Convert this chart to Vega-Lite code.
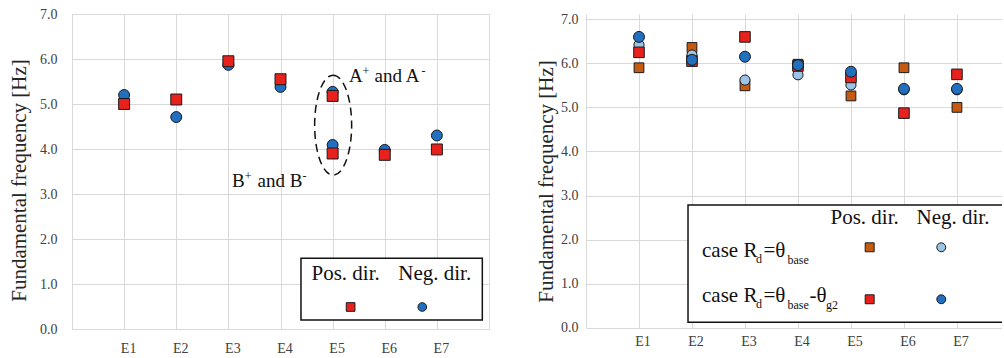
{
  "$schema": "https://vega.github.io/schema/vega-lite/v6.json",
  "padding": {"left": 8, "top": 7, "right": 0, "bottom": 0},
  "spacing": 46,
  "align": "each",
  "resolve": {"scale": {"color": "independent", "shape": "independent", "size": "independent"}},
  "config": {
    "view": {"stroke": null},
    "font": "Liberation Serif",
    "axis": {
      "labelFont": "Liberation Serif",
      "titleFont": "Liberation Serif",
      "labelFontSize": 14,
      "labelColor": "#404040",
      "titleFontSize": 21,
      "titleFontWeight": "normal",
      "titleColor": "#262626",
      "gridColor": "#d9d9d9",
      "gridWidth": 1,
      "ticks": false,
      "tickSize": 0,
      "domain": false
    }
  },
  "datasets": {
    "left": [
      {"element": "E1", "n": 1, "series": "Neg. dir.", "f": 5.20},
      {"element": "E2", "n": 2, "series": "Neg. dir.", "f": 4.71},
      {"element": "E3", "n": 3, "series": "Neg. dir.", "f": 5.87},
      {"element": "E4", "n": 4, "series": "Neg. dir.", "f": 5.38},
      {"element": "E5", "n": 5, "series": "Neg. dir.", "f": 5.27},
      {"element": "E5", "n": 5, "series": "Neg. dir.", "f": 4.09},
      {"element": "E6", "n": 6, "series": "Neg. dir.", "f": 3.98},
      {"element": "E7", "n": 7, "series": "Neg. dir.", "f": 4.30},
      {"element": "E1", "n": 1, "series": "Pos. dir.", "f": 5.00},
      {"element": "E2", "n": 2, "series": "Pos. dir.", "f": 5.10},
      {"element": "E3", "n": 3, "series": "Pos. dir.", "f": 5.95},
      {"element": "E4", "n": 4, "series": "Pos. dir.", "f": 5.55},
      {"element": "E5", "n": 5, "series": "Pos. dir.", "f": 5.18},
      {"element": "E5", "n": 5, "series": "Pos. dir.", "f": 3.90},
      {"element": "E6", "n": 6, "series": "Pos. dir.", "f": 3.87},
      {"element": "E7", "n": 7, "series": "Pos. dir.", "f": 3.99}
    ],
    "right": [
      {"element": "E1", "n": 1, "series": "base pos", "f": 5.90},
      {"element": "E2", "n": 2, "series": "base pos", "f": 6.36},
      {"element": "E3", "n": 3, "series": "base pos", "f": 5.49},
      {"element": "E4", "n": 4, "series": "base pos", "f": 5.98},
      {"element": "E5", "n": 5, "series": "base pos", "f": 5.26},
      {"element": "E6", "n": 6, "series": "base pos", "f": 5.90},
      {"element": "E7", "n": 7, "series": "base pos", "f": 5.00},
      {"element": "E1", "n": 1, "series": "base neg", "f": 6.42},
      {"element": "E2", "n": 2, "series": "base neg", "f": 6.19},
      {"element": "E3", "n": 3, "series": "base neg", "f": 5.62},
      {"element": "E4", "n": 4, "series": "base neg", "f": 5.74},
      {"element": "E5", "n": 5, "series": "base neg", "f": 5.51},
      {"element": "E6", "n": 6, "series": "base neg", "f": 5.40},
      {"element": "E7", "n": 7, "series": "base neg", "f": 5.40},
      {"element": "E1", "n": 1, "series": "g2 pos", "f": 6.25},
      {"element": "E2", "n": 2, "series": "g2 pos", "f": 6.05},
      {"element": "E3", "n": 3, "series": "g2 pos", "f": 6.60},
      {"element": "E4", "n": 4, "series": "g2 pos", "f": 5.94},
      {"element": "E5", "n": 5, "series": "g2 pos", "f": 5.68},
      {"element": "E6", "n": 6, "series": "g2 pos", "f": 4.87},
      {"element": "E7", "n": 7, "series": "g2 pos", "f": 5.75},
      {"element": "E1", "n": 1, "series": "g2 neg", "f": 6.60},
      {"element": "E2", "n": 2, "series": "g2 neg", "f": 6.08},
      {"element": "E3", "n": 3, "series": "g2 neg", "f": 6.15},
      {"element": "E4", "n": 4, "series": "g2 neg", "f": 5.96},
      {"element": "E5", "n": 5, "series": "g2 neg", "f": 5.81},
      {"element": "E6", "n": 6, "series": "g2 neg", "f": 5.42},
      {"element": "E7", "n": 7, "series": "g2 neg", "f": 5.42}
    ]
  },
  "hconcat": [
    {
      "width": 417,
      "height": 315,
      "layer": [
        {
          "data": {"name": "left"},
          "mark": {"type": "point", "filled": true, "size": 120, "stroke": "#1a1a1a", "strokeWidth": 1, "opacity": 1},
          "encoding": {
            "x": {"field": "n", "type": "quantitative",
              "scale": {"domain": [0, 8], "nice": false, "zero": false},
              "axis": {"values": [0, 1, 2, 3, 4, 5, 6, 7, 8], "grid": true, "title": null,
                "labelExpr": "datum.value >= 1 && datum.value <= 7 ? 'E' + datum.value : ''",
                "labelOffset": 4, "labelPadding": 12, "labelFontSize": 14}},
            "y": {"field": "f", "type": "quantitative",
              "scale": {"domain": [0, 7], "nice": false},
              "axis": {"values": [0, 1, 2, 3, 4, 5, 6, 7], "format": ".1f", "grid": true,
                "title": "Fundamental frequency [Hz]", "labelPadding": 15, "titlePadding": 10, "titleY": 166}},
            "shape": {"field": "series", "type": "nominal", "scale": {"domain": ["Pos. dir.", "Neg. dir."], "range": ["square", "circle"]}, "legend": null},
            "color": {"field": "series", "type": "nominal", "scale": {"domain": ["Pos. dir.", "Neg. dir."], "range": ["#e8211d", "#2170bf"]}, "legend": null}
          }
        },
        {
          "data": {"values": [{"k": "ellipse"}]},
          "mark": {"type": "point", "filled": false, "size": 10000, "color": "#111111", "strokeWidth": 1.5, "strokeDash": [8, 5], "opacity": 1,
            "shape": "M 0 -1 C 0.2044 -1 0.37 -0.5523 0.37 0 C 0.37 0.5523 0.2044 1 0 1 C -0.2044 1 -0.37 0.5523 -0.37 0 C -0.37 -0.5523 -0.2044 -1 0 -1 Z"},
          "encoding": {"x": {"datum": 5.01}, "y": {"datum": 4.53}}
        },
        {
          "data": {"values": [{"t": "A"}]},
          "mark": {"type": "text", "align": "left", "baseline": "alphabetic", "fontSize": 19, "font": "Liberation Serif", "color": "#111111"},
          "encoding": {"x": {"datum": 5.315}, "y": {"datum": 5.495}, "text": {"field": "t"}}
        },
        {
          "data": {"values": [{"t": "+"}]},
          "mark": {"type": "text", "align": "left", "baseline": "alphabetic", "fontSize": 12, "font": "Liberation Serif", "color": "#111111", "dx": 13.5, "dy": -7},
          "encoding": {"x": {"datum": 5.315}, "y": {"datum": 5.495}, "text": {"field": "t"}}
        },
        {
          "data": {"values": [{"t": "and A"}]},
          "mark": {"type": "text", "align": "left", "baseline": "alphabetic", "fontSize": 19, "font": "Liberation Serif", "color": "#111111", "dx": 25.5},
          "encoding": {"x": {"datum": 5.315}, "y": {"datum": 5.495}, "text": {"field": "t"}}
        },
        {
          "data": {"values": [{"t": "-"}]},
          "mark": {"type": "text", "align": "left", "baseline": "alphabetic", "fontSize": 12, "font": "Liberation Serif", "color": "#111111", "dx": 72.5, "dy": -7},
          "encoding": {"x": {"datum": 5.315}, "y": {"datum": 5.495}, "text": {"field": "t"}}
        },
        {
          "data": {"values": [{"t": "B"}]},
          "mark": {"type": "text", "align": "left", "baseline": "alphabetic", "fontSize": 19, "font": "Liberation Serif", "color": "#111111"},
          "encoding": {"x": {"datum": 3.07}, "y": {"datum": 3.162}, "text": {"field": "t"}}
        },
        {
          "data": {"values": [{"t": "+"}]},
          "mark": {"type": "text", "align": "left", "baseline": "alphabetic", "fontSize": 12, "font": "Liberation Serif", "color": "#111111", "dx": 12.7, "dy": -7},
          "encoding": {"x": {"datum": 3.07}, "y": {"datum": 3.162}, "text": {"field": "t"}}
        },
        {
          "data": {"values": [{"t": "and B"}]},
          "mark": {"type": "text", "align": "left", "baseline": "alphabetic", "fontSize": 19, "font": "Liberation Serif", "color": "#111111", "dx": 25.5},
          "encoding": {"x": {"datum": 3.07}, "y": {"datum": 3.162}, "text": {"field": "t"}}
        },
        {
          "data": {"values": [{"t": "-"}]},
          "mark": {"type": "text", "align": "left", "baseline": "alphabetic", "fontSize": 12, "font": "Liberation Serif", "color": "#111111", "dx": 70.5, "dy": -7},
          "encoding": {"x": {"datum": 3.07}, "y": {"datum": 3.162}, "text": {"field": "t"}}
        },
        {
          "data": {"values": [{"k": "legend box"}]},
          "mark": {"type": "rect", "fill": "#ffffff", "stroke": "#111111", "strokeWidth": 1.5},
          "encoding": {"x": {"datum": 4.393}, "x2": {"datum": 7.872}, "y": {"datum": 1.571}, "y2": {"datum": 0.2}}
        },
        {
          "data": {"values": [{"t": "Pos. dir."}]},
          "mark": {"type": "text", "align": "center", "baseline": "alphabetic", "fontSize": 21, "font": "Liberation Serif", "color": "#111111"},
          "encoding": {"x": {"datum": 5.25}, "y": {"datum": 1.089}, "text": {"field": "t"}}
        },
        {
          "data": {"values": [{"t": "Neg. dir."}]},
          "mark": {"type": "text", "align": "center", "baseline": "alphabetic", "fontSize": 21, "font": "Liberation Serif", "color": "#111111"},
          "encoding": {"x": {"datum": 6.958}, "y": {"datum": 1.089}, "text": {"field": "t"}}
        },
        {
          "data": {"values": [{"series": "Pos. dir."}]},
          "mark": {"type": "point", "filled": true, "size": 75, "stroke": "#1a1a1a", "strokeWidth": 1, "opacity": 1},
          "encoding": {"x": {"datum": 5.345}, "y": {"datum": 0.489},
            "shape": {"field": "series", "type": "nominal", "legend": null},
            "color": {"field": "series", "type": "nominal", "legend": null}}
        },
        {
          "data": {"values": [{"series": "Neg. dir."}]},
          "mark": {"type": "point", "filled": true, "size": 75, "stroke": "#1a1a1a", "strokeWidth": 1, "opacity": 1},
          "encoding": {"x": {"datum": 6.72}, "y": {"datum": 0.489},
            "shape": {"field": "series", "type": "nominal", "legend": null},
            "color": {"field": "series", "type": "nominal", "legend": null}}
        }
      ]
    },
    {
      "width": 416,
      "height": 313.7,
      "layer": [
        {
          "data": {"name": "right"},
          "mark": {"type": "point", "filled": true, "stroke": "#1a1a1a", "strokeWidth": 1, "opacity": 1},
          "encoding": {
            "x": {"field": "n", "type": "quantitative",
              "scale": {"domain": [0, 7.85], "nice": false, "zero": false},
              "axis": {"values": [0, 1, 2, 3, 4, 5, 6, 7], "grid": true, "title": null,
                "labelExpr": "datum.value >= 1 && datum.value <= 7 ? 'E' + datum.value : ''",
                "labelOffset": 3.5, "labelPadding": 7}},
            "y": {"field": "f", "type": "quantitative",
              "scale": {"domain": [0, 7.12], "nice": false},
              "axis": {"values": [0, 1, 2, 3, 4, 5, 6, 7], "format": ".1f", "grid": true,
                "title": "Fundamental frequency [Hz]", "labelPadding": 8, "titlePadding": 4, "titleY": 167}},
            "shape": {"field": "series", "type": "nominal", "scale": {"domain": ["base pos", "base neg", "g2 pos", "g2 neg"], "range": ["square", "circle", "square", "circle"]}, "legend": null},
            "color": {"field": "series", "type": "nominal", "scale": {"domain": ["base pos", "base neg", "g2 pos", "g2 neg"], "range": ["#c55a11", "#9dc3e6", "#e8211d", "#2170bf"]}, "legend": null},
            "size": {"field": "series", "type": "nominal", "scale": {"domain": ["base pos", "base neg", "g2 pos", "g2 neg"], "range": [95, 120, 125, 120]}, "legend": null}
          }
        },
        {
          "data": {"values": [{"k": "legend box"}]},
          "mark": {"type": "rect", "fill": "#ffffff", "stroke": "#111111", "strokeWidth": 1.5, "clip": true},
          "encoding": {"x": {"datum": 1.925}, "x2": {"datum": 8.2}, "y": {"datum": 2.785}, "y2": {"datum": 0.123}}
        },
        {
          "data": {"values": [{"t": "Pos. dir."}]},
          "mark": {"type": "text", "align": "center", "baseline": "alphabetic", "fontSize": 21, "font": "Liberation Serif", "color": "#111111"},
          "encoding": {"x": {"datum": 5.258}, "y": {"datum": 2.354}, "text": {"field": "t"}}
        },
        {
          "data": {"values": [{"t": "Neg. dir."}]},
          "mark": {"type": "text", "align": "center", "baseline": "alphabetic", "fontSize": 21, "font": "Liberation Serif", "color": "#111111"},
          "encoding": {"x": {"datum": 6.925}, "y": {"datum": 2.354}, "text": {"field": "t"}}
        },
        {
          "data": {"values": [{"t": "case R"}]},
          "mark": {"type": "text", "align": "left", "baseline": "alphabetic", "fontSize": 21, "font": "Liberation Serif", "color": "#111111"},
          "encoding": {"x": {"datum": 2.189}, "y": {"datum": 1.611}, "text": {"field": "t"}}
        },
        {
          "data": {"values": [{"t": "d"}]},
          "mark": {"type": "text", "align": "left", "baseline": "alphabetic", "fontSize": 12, "font": "Liberation Serif", "color": "#111111", "dx": 54, "dy": 6.5},
          "encoding": {"x": {"datum": 2.189}, "y": {"datum": 1.611}, "text": {"field": "t"}}
        },
        {
          "data": {"values": [{"t": "=θ"}]},
          "mark": {"type": "text", "align": "left", "baseline": "alphabetic", "fontSize": 21, "font": "Liberation Serif", "color": "#111111", "dx": 61.5},
          "encoding": {"x": {"datum": 2.189}, "y": {"datum": 1.611}, "text": {"field": "t"}}
        },
        {
          "data": {"values": [{"t": "base"}]},
          "mark": {"type": "text", "align": "left", "baseline": "alphabetic", "fontSize": 12, "font": "Liberation Serif", "color": "#111111", "dx": 85.5, "dy": 7},
          "encoding": {"x": {"datum": 2.189}, "y": {"datum": 1.611}, "text": {"field": "t"}}
        },
        {
          "data": {"values": [{"t": "case R"}]},
          "mark": {"type": "text", "align": "left", "baseline": "alphabetic", "fontSize": 21, "font": "Liberation Serif", "color": "#111111"},
          "encoding": {"x": {"datum": 2.189}, "y": {"datum": 0.59}, "text": {"field": "t"}}
        },
        {
          "data": {"values": [{"t": "d"}]},
          "mark": {"type": "text", "align": "left", "baseline": "alphabetic", "fontSize": 12, "font": "Liberation Serif", "color": "#111111", "dx": 54, "dy": 6.5},
          "encoding": {"x": {"datum": 2.189}, "y": {"datum": 0.59}, "text": {"field": "t"}}
        },
        {
          "data": {"values": [{"t": "=θ"}]},
          "mark": {"type": "text", "align": "left", "baseline": "alphabetic", "fontSize": 21, "font": "Liberation Serif", "color": "#111111", "dx": 61.5},
          "encoding": {"x": {"datum": 2.189}, "y": {"datum": 0.59}, "text": {"field": "t"}}
        },
        {
          "data": {"values": [{"t": "base"}]},
          "mark": {"type": "text", "align": "left", "baseline": "alphabetic", "fontSize": 12, "font": "Liberation Serif", "color": "#111111", "dx": 85.5, "dy": 7},
          "encoding": {"x": {"datum": 2.189}, "y": {"datum": 0.59}, "text": {"field": "t"}}
        },
        {
          "data": {"values": [{"t": "-θ"}]},
          "mark": {"type": "text", "align": "left", "baseline": "alphabetic", "fontSize": 21, "font": "Liberation Serif", "color": "#111111", "dx": 107.5},
          "encoding": {"x": {"datum": 2.189}, "y": {"datum": 0.59}, "text": {"field": "t"}}
        },
        {
          "data": {"values": [{"t": "g2"}]},
          "mark": {"type": "text", "align": "left", "baseline": "alphabetic", "fontSize": 12, "font": "Liberation Serif", "color": "#111111", "dx": 124, "dy": 7},
          "encoding": {"x": {"datum": 2.189}, "y": {"datum": 0.59}, "text": {"field": "t"}}
        },
        {
          "data": {"values": [{"series": "base pos"}]},
          "mark": {"type": "point", "filled": true, "size": 80, "stroke": "#1a1a1a", "strokeWidth": 1, "opacity": 1},
          "encoding": {"x": {"datum": 5.353}, "y": {"datum": 1.825},
            "shape": {"field": "series", "type": "nominal", "legend": null},
            "color": {"field": "series", "type": "nominal", "legend": null}}
        },
        {
          "data": {"values": [{"series": "base neg"}]},
          "mark": {"type": "point", "filled": true, "size": 80, "stroke": "#1a1a1a", "strokeWidth": 1, "opacity": 1},
          "encoding": {"x": {"datum": 6.704}, "y": {"datum": 1.825},
            "shape": {"field": "series", "type": "nominal", "legend": null},
            "color": {"field": "series", "type": "nominal", "legend": null}}
        },
        {
          "data": {"values": [{"series": "g2 pos"}]},
          "mark": {"type": "point", "filled": true, "size": 80, "stroke": "#1a1a1a", "strokeWidth": 1, "opacity": 1},
          "encoding": {"x": {"datum": 5.353}, "y": {"datum": 0.645},
            "shape": {"field": "series", "type": "nominal", "legend": null},
            "color": {"field": "series", "type": "nominal", "legend": null}}
        },
        {
          "data": {"values": [{"series": "g2 neg"}]},
          "mark": {"type": "point", "filled": true, "size": 80, "stroke": "#1a1a1a", "strokeWidth": 1, "opacity": 1},
          "encoding": {"x": {"datum": 6.704}, "y": {"datum": 0.645},
            "shape": {"field": "series", "type": "nominal", "legend": null},
            "color": {"field": "series", "type": "nominal", "legend": null}}
        }
      ]
    }
  ]
}
